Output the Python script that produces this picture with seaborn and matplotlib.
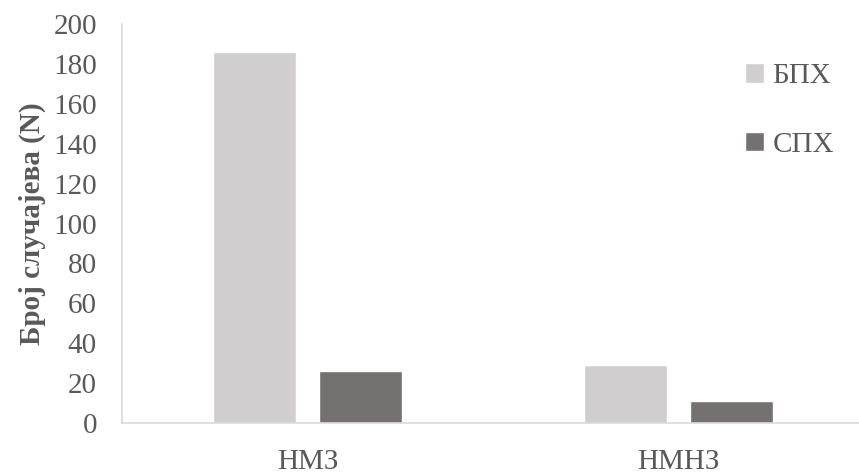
import matplotlib
matplotlib.use("Agg")
import matplotlib.pyplot as plt
import seaborn as sns
import pandas as pd

categories = ["НМЗ", "НМЗ", "НМНЗ", "НМНЗ"]
groups = ["БПХ", "СПХ", "БПХ", "СПХ"]
values = [186, 26, 29, 11]

df = pd.DataFrame({"cat": categories, "grp": groups, "val": values})

sns.set_theme(style="white")
plt.rcParams["font.family"] = ["Liberation Serif", "DejaVu Serif"]

fig = plt.figure(figsize=(8.59, 4.75), dpi=100)
ax = fig.add_axes([0.142, 0.1095, 0.864, 0.8395])

palette = {"БПХ": "#D0CECE", "СПХ": "#767171"}
sns.barplot(data=df, x="cat", y="val", hue="grp", palette=palette,
            width=0.572, gap=0.217, ax=ax, saturation=1, legend=True)

ax.set_xlim(-0.5, 1.5)
ax.set_ylim(0, 200)
ax.set_yticks(range(0, 201, 20))
ax.tick_params(axis="both", length=0, labelsize=21, colors="#595959")
ax.tick_params(axis="y", pad=18)
ax.tick_params(axis="x", pad=19)
ax.set_xlabel("")
ax.set_ylabel("Број случајева (N)", fontsize=21, fontweight="bold", color="#595959", labelpad=5)

for s in ["top", "right"]:
    ax.spines[s].set_visible(False)
for s in ["left", "bottom"]:
    ax.spines[s].set_color("#D9D9D9")
    ax.spines[s].set_linewidth(1.2)

leg = ax.legend(loc="upper left", bbox_to_anchor=(0.804, 0.968), frameon=False,
                fontsize=21, handlelength=0.65, handleheight=0.65, handletextpad=0.3,
                labelspacing=1.45, labelcolor="#595959")

fig.savefig("out.png", dpi=100)
